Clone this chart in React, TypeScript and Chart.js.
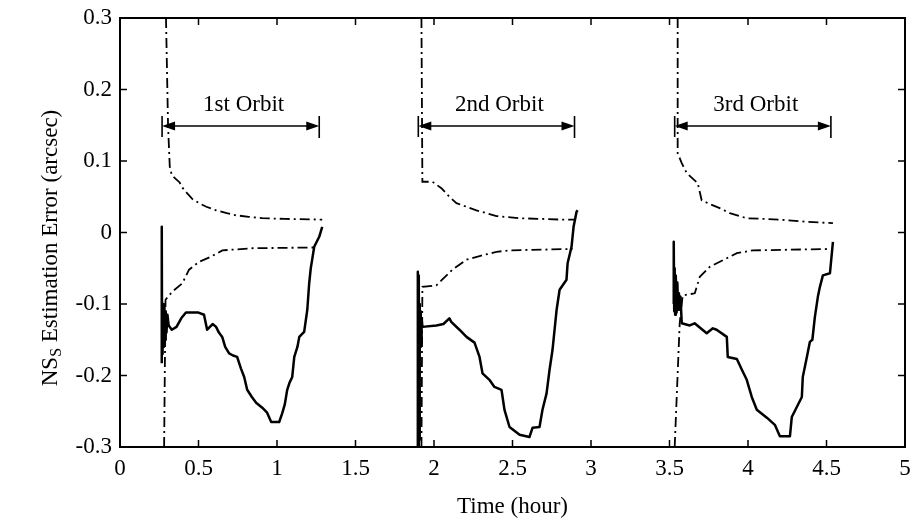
import { useEffect, useRef } from "react";
import { Chart, registerables } from "chart.js";

Chart.register(...registerables);

type Pt = [number, number];

// Axis ranges and tick spacing
const xRange: [number, number] = [0, 5];
const yRange: [number, number] = [-0.3, 0.3];
const xTickStep = 0.5;
const yTickStep = 0.1;

const xTitle = "Time (hour)";
const yTitleMain = "NS";
const yTitleSub = "S";
const yTitleRest = " Estimation Error (arcsec)";

// Orbit span markers (hours) and their vertical placement (arcsec)
const orbitLabels = ["1st Orbit", "2nd Orbit", "3rd Orbit"];
const orbitStarts = [0.268, 1.9, 3.533];
const orbitEnds = [1.269, 2.895, 4.528];
const arrowLevel = 0.149;
const labelLevel = 0.178;

// Estimation error, orbit 1
const orbit1Estimate: Pt[] = [
  [0.266, -0.183], [0.266, 0.008], [0.268, -0.17], [0.271, -0.11], [0.274, -0.16],
  [0.277, -0.1], [0.28, -0.155], [0.283, -0.105], [0.287, -0.15], [0.291, -0.11],
  [0.296, -0.14], [0.302, -0.115], [0.31, -0.13], [0.33, -0.136], [0.36, -0.132],
  [0.39, -0.12], [0.42, -0.112], [0.5, -0.112], [0.535, -0.115], [0.555, -0.136],
  [0.59, -0.128], [0.612, -0.132], [0.63, -0.14], [0.651, -0.146], [0.67, -0.16],
  [0.695, -0.169], [0.72, -0.172], [0.746, -0.174], [0.77, -0.19], [0.791, -0.202],
  [0.81, -0.22], [0.84, -0.23], [0.867, -0.238], [0.906, -0.245], [0.937, -0.252],
  [0.963, -0.265], [1.014, -0.265], [1.033, -0.253], [1.05, -0.24], [1.065, -0.22],
  [1.08, -0.21], [1.097, -0.202], [1.11, -0.174], [1.13, -0.16], [1.142, -0.146],
  [1.173, -0.139], [1.193, -0.108], [1.205, -0.071], [1.215, -0.05], [1.224, -0.038],
  [1.237, -0.02], [1.269, -0.006], [1.288, 0.008],
];
const orbit1Upper: Pt[] = [
  [0.293, 0.3], [0.306, 0.15], [0.317, 0.092], [0.33, 0.08], [0.36, 0.074],
  [0.38, 0.07], [0.4, 0.062], [0.427, 0.055], [0.46, 0.047], [0.504, 0.041],
  [0.55, 0.036], [0.612, 0.031], [0.68, 0.027], [0.74, 0.024], [0.82, 0.022],
  [0.906, 0.02], [1.05, 0.019], [1.288, 0.018],
];
const orbit1Lower: Pt[] = [
  [0.281, -0.3], [0.286, -0.18], [0.29, -0.094], [0.332, -0.083], [0.397, -0.071],
  [0.44, -0.052], [0.504, -0.041], [0.578, -0.034], [0.652, -0.025], [0.842, -0.022],
  [1.224, -0.021], [1.248, -0.021],
];

// Estimation error, orbit 2
const orbit2Estimate: Pt[] = [
  [1.895, -0.3], [1.897, -0.055], [1.9, -0.3], [1.903, -0.06], [1.906, -0.29],
  [1.909, -0.1], [1.912, -0.16], [1.915, -0.11], [1.918, -0.155], [1.921, -0.12],
  [1.926, -0.132], [2.015, -0.13], [2.06, -0.128], [2.098, -0.12], [2.11, -0.125],
  [2.162, -0.136], [2.207, -0.146], [2.258, -0.154], [2.29, -0.174], [2.309, -0.197],
  [2.353, -0.206], [2.385, -0.216], [2.43, -0.22], [2.449, -0.248], [2.481, -0.272],
  [2.545, -0.283], [2.608, -0.286], [2.628, -0.273], [2.672, -0.272], [2.691, -0.248],
  [2.717, -0.225], [2.736, -0.192], [2.755, -0.164], [2.781, -0.108], [2.8, -0.08],
  [2.844, -0.066], [2.851, -0.043], [2.876, -0.02], [2.889, 0.008], [2.908, 0.029],
  [2.915, 0.031],
];
const orbit2Upper: Pt[] = [
  [1.92, 0.3], [1.926, 0.071], [1.99, 0.071], [2.047, 0.062], [2.098, 0.05],
  [2.143, 0.041], [2.27, 0.031], [2.398, 0.023], [2.545, 0.02], [2.82, 0.018],
  [2.895, 0.018],
];
const orbit2Lower: Pt[] = [
  [1.92, -0.3], [1.926, -0.076], [2.015, -0.074], [2.047, -0.067], [2.117, -0.052],
  [2.207, -0.038], [2.29, -0.033], [2.398, -0.027], [2.481, -0.025], [2.883, -0.023],
];

// Estimation error, orbit 3
const orbit3Estimate: Pt[] = [
  [3.525, -0.1], [3.527, -0.013], [3.53, -0.11], [3.533, -0.05], [3.536, -0.115],
  [3.54, -0.06], [3.545, -0.112], [3.55, -0.07], [3.555, -0.108], [3.56, -0.085],
  [3.565, -0.1], [3.57, -0.09], [3.578, -0.127], [3.629, -0.13], [3.66, -0.127],
  [3.737, -0.141], [3.776, -0.134], [3.8, -0.136], [3.865, -0.146], [3.871, -0.174],
  [3.929, -0.177], [3.961, -0.192], [3.992, -0.206], [4.024, -0.23], [4.056, -0.248],
  [4.12, -0.259], [4.171, -0.269], [4.203, -0.285], [4.267, -0.285], [4.279, -0.258],
  [4.311, -0.244], [4.343, -0.23], [4.349, -0.202], [4.375, -0.174], [4.394, -0.153],
  [4.41, -0.15], [4.426, -0.118], [4.445, -0.09], [4.458, -0.076], [4.477, -0.06],
  [4.522, -0.057], [4.528, -0.043], [4.541, -0.013],
];
const orbit3Upper: Pt[] = [
  [3.552, 0.3], [3.552, 0.111], [3.578, 0.097], [3.61, 0.083], [3.68, 0.069],
  [3.705, 0.045], [3.744, 0.041], [3.82, 0.034], [3.884, 0.027], [3.992, 0.02],
  [4.203, 0.018], [4.375, 0.015], [4.541, 0.013],
];
const orbit3Lower: Pt[] = [
  [3.533, -0.3], [3.565, -0.127], [3.584, -0.088], [3.661, -0.085], [3.693, -0.062],
  [3.757, -0.048], [3.865, -0.036], [3.929, -0.029], [4.031, -0.025], [4.522, -0.023],
];

const FONT = "'Liberation Serif', 'Times New Roman', serif";
const FONT_SIZE = 23;

const toXY = (pts: Pt[]) => pts.map(([x, y]) => ({ x, y }));

const solidLine = (pts: Pt[]) => ({
  data: toXY(pts),
  borderColor: "#000",
  borderWidth: 2.5,
  pointRadius: 0,
  tension: 0,
  fill: false,
  borderJoinStyle: "round" as const,
});

const dashDotLine = (pts: Pt[]) => ({
  data: toXY(pts),
  borderColor: "#000",
  borderWidth: 1.8,
  borderDash: [10, 4, 2, 4],
  pointRadius: 0,
  tension: 0,
  fill: false,
});

const fmt = (v: number) => String(Number(v.toFixed(1)));

// Scales keep no extra overflow padding, so the layout padding alone places the plot box
const noOverflow = (s: any) => {
  s.paddingLeft = 0;
  s.paddingRight = 0;
  s.paddingTop = 0;
  s.paddingBottom = 0;
};

// Frame with inward ticks, orbit span arrows and the subscripted y title
const decorations = {
  id: "decorations",
  afterDatasetsDraw(chart: any) {
    const { ctx, chartArea: a, scales } = chart;
    const xs = scales.x;
    const ys = scales.y;
    ctx.save();
    ctx.strokeStyle = "#000";
    ctx.fillStyle = "#000";

    ctx.lineWidth = 2;
    ctx.strokeRect(a.left, a.top, a.right - a.left, a.bottom - a.top);

    const tl = 7;
    ctx.lineWidth = 1.5;
    ctx.beginPath();
    xs.ticks.forEach((t: any) => {
      const px = xs.getPixelForValue(t.value);
      if (px <= a.left + 1 || px >= a.right - 1) return;
      ctx.moveTo(px, a.bottom);
      ctx.lineTo(px, a.bottom - tl);
      ctx.moveTo(px, a.top);
      ctx.lineTo(px, a.top + tl);
    });
    ys.ticks.forEach((t: any) => {
      const py = ys.getPixelForValue(t.value);
      if (py <= a.top + 1 || py >= a.bottom - 1) return;
      ctx.moveTo(a.left, py);
      ctx.lineTo(a.left + tl, py);
      ctx.moveTo(a.right, py);
      ctx.lineTo(a.right - tl, py);
    });
    ctx.stroke();

    // orbit span arrows
    const ay = ys.getPixelForValue(arrowLevel);
    const ly = ys.getPixelForValue(labelLevel);
    const head = 13;
    const hh = 4.5;
    ctx.font = `${FONT_SIZE}px ${FONT}`;
    ctx.textAlign = "center";
    ctx.textBaseline = "middle";
    orbitLabels.forEach((label, i) => {
      const x1 = xs.getPixelForValue(orbitStarts[i]);
      const x2 = xs.getPixelForValue(orbitEnds[i]);
      ctx.lineWidth = 1.6;
      ctx.beginPath();
      ctx.moveTo(x1 + head - 1, ay);
      ctx.lineTo(x2 - head + 1, ay);
      ctx.moveTo(x1, ay - 10);
      ctx.lineTo(x1, ay + 11);
      ctx.moveTo(x2, ay - 10);
      ctx.lineTo(x2, ay + 12);
      ctx.stroke();
      ctx.beginPath();
      ctx.moveTo(x1, ay);
      ctx.lineTo(x1 + head, ay - hh);
      ctx.lineTo(x1 + head, ay + hh);
      ctx.closePath();
      ctx.fill();
      ctx.beginPath();
      ctx.moveTo(x2, ay);
      ctx.lineTo(x2 - head, ay - hh);
      ctx.lineTo(x2 - head, ay + hh);
      ctx.closePath();
      ctx.fill();
      ctx.fillText(label, (x1 + x2) / 2 + 3, ly);
    });

    // y axis title with subscript
    const big = `${FONT_SIZE}px ${FONT}`;
    const small = `16px ${FONT}`;
    ctx.translate(51, 248);
    ctx.rotate(-Math.PI / 2);
    ctx.textAlign = "left";
    ctx.textBaseline = "middle";
    ctx.font = big;
    const w1 = ctx.measureText(yTitleMain).width;
    const w3 = ctx.measureText(yTitleRest).width;
    ctx.font = small;
    const w2 = ctx.measureText(yTitleSub).width;
    let cx = -(w1 + w2 + w3) / 2;
    ctx.font = big;
    ctx.fillText(yTitleMain, cx, 0);
    cx += w1;
    ctx.font = small;
    ctx.fillText(yTitleSub, cx, 6);
    cx += w2;
    ctx.font = big;
    ctx.fillText(yTitleRest, cx, 0);

    ctx.restore();
  },
};

export default function App() {
  const canvasRef = useRef<HTMLCanvasElement | null>(null);

  useEffect(() => {
    const canvas = canvasRef.current;
    if (!canvas) return;
    const chart = new Chart(canvas, {
      type: "line",
      data: {
        datasets: [
          solidLine(orbit1Estimate),
          dashDotLine(orbit1Upper),
          dashDotLine(orbit1Lower),
          solidLine(orbit2Estimate),
          dashDotLine(orbit2Upper),
          dashDotLine(orbit2Lower),
          solidLine(orbit3Estimate),
          dashDotLine(orbit3Upper),
          dashDotLine(orbit3Lower),
        ] as any,
      },
      options: {
        responsive: false,
        animation: false,
        devicePixelRatio: 1,
        layout: { padding: { left: 0, top: 18, right: 9, bottom: 0 } },
        plugins: {
          legend: { display: false },
          tooltip: { enabled: false },
        },
        scales: {
          x: {
            type: "linear",
            min: xRange[0],
            max: xRange[1],
            border: { display: false },
            grid: { display: false, drawTicks: false },
            ticks: {
              stepSize: xTickStep,
              autoSkip: false,
              maxRotation: 0,
              padding: 8,
              color: "#000",
              font: { family: FONT, size: FONT_SIZE },
              callback: (v: any) => fmt(Number(v)),
            },
            title: {
              display: true,
              text: xTitle,
              color: "#000",
              font: { family: FONT, size: FONT_SIZE },
              padding: { top: 0, bottom: 1 },
            },
            afterFit: (s: any) => {
              s.height = 75;
              noOverflow(s);
            },
          },
          y: {
            type: "linear",
            min: yRange[0],
            max: yRange[1],
            border: { display: false },
            grid: { display: false, drawTicks: false },
            ticks: {
              stepSize: yTickStep,
              autoSkip: false,
              padding: 8,
              color: "#000",
              font: { family: FONT, size: FONT_SIZE },
              callback: (v: any) => fmt(Number(v)),
            },
            afterFit: (s: any) => {
              s.width = 120;
              noOverflow(s);
            },
          },
        },
      },
      plugins: [decorations],
    });
    return () => chart.destroy();
  }, []);

  return (
    <div style={{ position: "absolute", left: 0, top: 0, width: 914, height: 522, background: "#fff" }}>
      <canvas ref={canvasRef} width={914} height={522} />
    </div>
  );
}
